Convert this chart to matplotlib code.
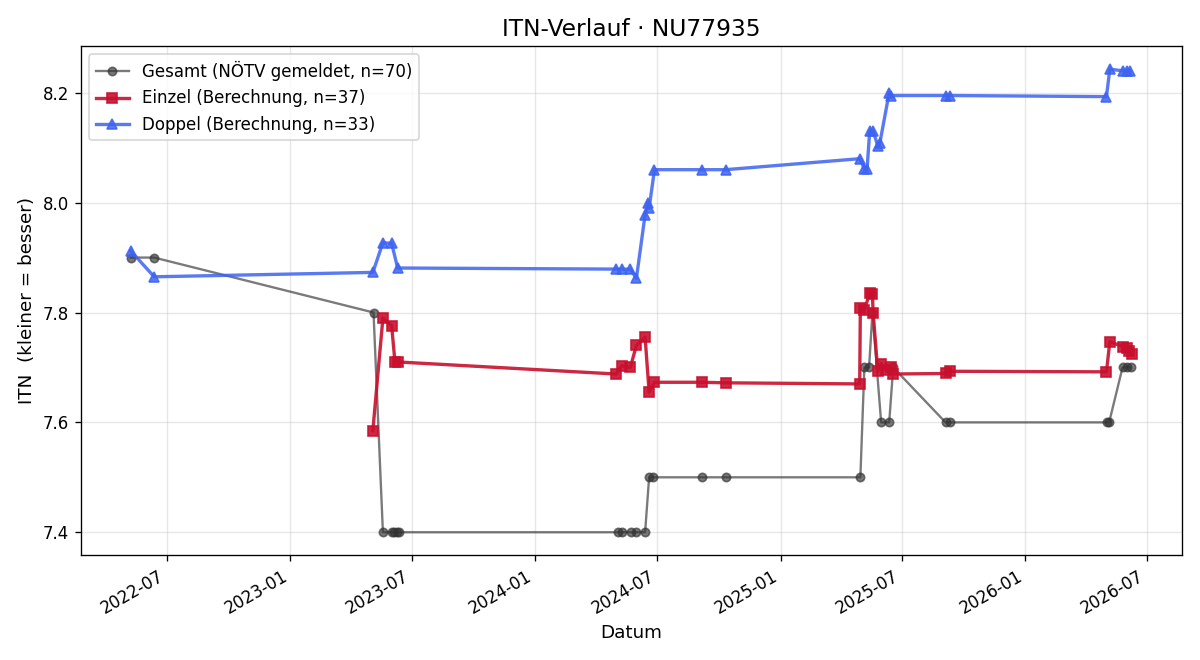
import matplotlib
matplotlib.use("Agg")
import matplotlib.pyplot as plt
import matplotlib.dates as mdates
import pandas as pd

gesamtDates = ["2022-05-08", "2022-06-12", "2023-05-05", "2023-05-19", "2023-06-01", "2023-06-05",
               "2023-06-09", "2023-06-12", "2024-05-03", "2024-05-09", "2024-05-23", "2024-05-30",
               "2024-06-13", "2024-06-19", "2024-06-25", "2024-09-06", "2024-10-11", "2025-04-30",
               "2025-05-06", "2025-05-13", "2025-05-18", "2025-05-31", "2025-06-12", "2025-06-18",
               "2025-09-04", "2025-09-11", "2026-05-03", "2026-05-06", "2026-05-26", "2026-06-01",
               "2026-06-07"]
gesamtItn = [7.9, 7.9, 7.8, 7.4, 7.4, 7.4,
             7.4, 7.4, 7.4, 7.4, 7.4, 7.4,
             7.4, 7.5, 7.5, 7.5, 7.5, 7.5,
             7.7, 7.7, 7.8, 7.6, 7.6, 7.7,
             7.6, 7.6, 7.6, 7.6, 7.7, 7.7,
             7.7]

einzelDates = ["2023-05-04", "2023-05-19", "2023-06-01", "2023-06-06", "2023-06-10",
               "2024-05-01", "2024-05-09", "2024-05-22", "2024-05-31", "2024-06-13", "2024-06-19",
               "2024-06-27", "2024-09-06", "2024-10-11", "2025-04-29", "2025-04-30", "2025-05-06",
               "2025-05-14", "2025-05-18", "2025-05-19", "2025-05-26", "2025-05-31", "2025-06-07",
               "2025-06-14", "2025-06-18", "2025-09-04", "2025-09-11", "2026-05-02", "2026-05-07",
               "2026-05-26", "2026-06-01", "2026-06-04", "2026-06-09"]
einzelItn = [7.585, 7.79, 7.776, 7.71, 7.71,
             7.688, 7.703, 7.70, 7.74, 7.755, 7.655,
             7.673, 7.673, 7.672, 7.67, 7.808, 7.805,
             7.835, 7.833, 7.80, 7.693, 7.707, 7.695,
             7.70, 7.688, 7.689, 7.693, 7.692, 7.747,
             7.738, 7.735, 7.73, 7.725]

doppelDates = ["2022-05-08", "2022-06-12", "2023-05-04", "2023-05-19", "2023-06-01", "2023-06-10",
               "2024-05-01", "2024-05-09", "2024-05-22", "2024-05-31", "2024-06-13", "2024-06-17",
               "2024-06-19", "2024-06-27", "2024-09-06", "2024-10-11", "2025-04-29", "2025-05-06",
               "2025-05-10", "2025-05-14", "2025-05-19", "2025-05-26", "2025-05-29", "2025-06-12",
               "2025-06-15", "2025-09-04", "2025-09-11", "2026-05-02", "2026-05-07", "2026-05-26",
               "2026-06-01", "2026-06-06"]
doppelItn = [7.912, 7.865, 7.873, 7.927, 7.926, 7.881,
             7.879, 7.879, 7.879, 7.862, 7.978, 8.0,
             7.99, 8.06, 8.06, 8.06, 8.08, 8.062,
             8.061, 8.131, 8.131, 8.103, 8.108, 8.2,
             8.195, 8.195, 8.195, 8.193, 8.243, 8.24,
             8.24, 8.24]

fig, ax = plt.subplots(figsize=(10, 5.5), dpi=120)

ax.plot(pd.to_datetime(gesamtDates), gesamtItn, color='#333333', alpha=0.65, marker='o',
        markersize=5, linewidth=1.4, label='Gesamt (NÖTV gemeldet, n=70)')
ax.plot(pd.to_datetime(einzelDates), einzelItn, color='#c8102e', alpha=0.9, marker='s',
        markersize=6, linewidth=2, label='Einzel (Berechnung, n=37)')
ax.plot(pd.to_datetime(doppelDates), doppelItn, color='#3d63f0', alpha=0.85, marker='^',
        markersize=6, linewidth=2, label='Doppel (Berechnung, n=33)')

ax.set_title("ITN-Verlauf · NU77935", fontsize=14)
ax.set_xlabel("Datum", fontsize=11)
ax.set_ylabel("ITN  (kleiner = besser)", fontsize=11)
ax.xaxis.set_major_locator(mdates.MonthLocator(bymonth=[1, 7]))
ax.xaxis.set_major_formatter(mdates.DateFormatter("%Y-%m"))
ax.grid(True, alpha=0.3)
ax.legend(loc='upper left')
fig.autofmt_xdate()
plt.tight_layout()
plt.savefig("out.png")
